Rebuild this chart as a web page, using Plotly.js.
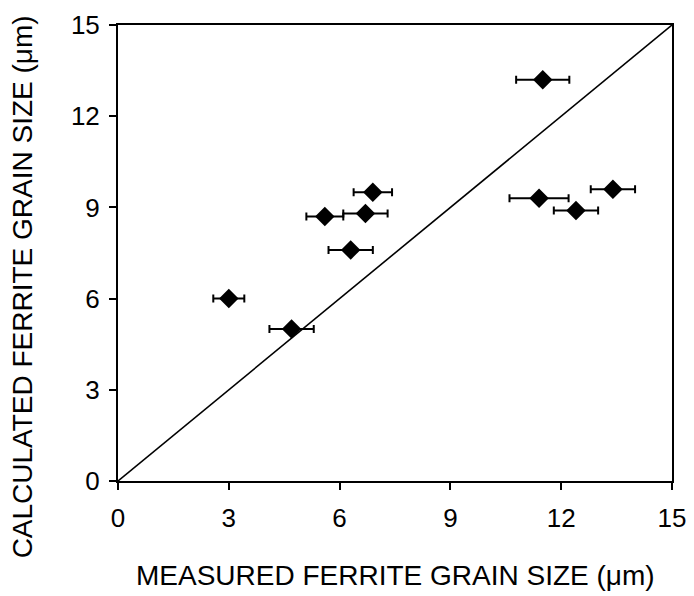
<!DOCTYPE html>
<html>
<head>
<meta charset="utf-8">
<script src="https://cdn.plot.ly/plotly-3.0.1.min.js"></script>
<style>html,body{margin:0;padding:0;background:#fff}#chart{width:694px;height:596px}</style>
</head>
<body>
<div id="chart"></div>
<script>
// Measured vs calculated ferrite grain size (µm)
var measured   = [3.0, 4.7, 5.6, 6.3, 6.7, 6.9, 11.5, 11.4, 12.4, 13.4];
var calculated = [6.0, 5.0, 8.7, 7.6, 8.8, 9.5, 13.2, 9.3, 8.9, 9.6];
var measuredErr = [0.42, 0.6, 0.5, 0.6, 0.6, 0.52, 0.72, 0.8, 0.6, 0.6];
var parityLine = [0, 15];
var tickVals = [0, 3, 6, 9, 12, 15];
var xTitle = 'MEASURED FERRITE GRAIN SIZE (\u03bcm)';
var yTitle = 'CALCULATED FERRITE GRAIN SIZE (\u03bcm)';

var FONT = 'Liberation Sans, Arial, sans-serif';

var traces = [
  {
    x: parityLine, y: parityLine, mode: 'lines', type: 'scatter',
    line: {color: '#000', width: 1.6}, hoverinfo: 'skip', showlegend: false
  },
  {
    x: measured, y: calculated, mode: 'markers', type: 'scatter',
    marker: {symbol: 'diamond', size: 15, color: '#000'},
    error_x: {type: 'data', array: measuredErr, symmetric: true, color: '#000', thickness: 2, width: 4},
    showlegend: false
  }
];

var axisCommon = {
  range: [0, 15], tickvals: tickVals, ticktext: tickVals.map(String),
  showgrid: false, zeroline: false, showline: true, mirror: true,
  linecolor: '#000', linewidth: 2, ticks: 'outside', ticklen: 7, tickwidth: 2, tickcolor: '#000',
  tickfont: {family: FONT, size: 26, color: '#000'}
};

var layout = {
  width: 694, height: 596,
  margin: {l: 118, r: 22, t: 25, b: 115},
  paper_bgcolor: '#fff', plot_bgcolor: '#fff',
  xaxis: Object.assign({}, axisCommon, {ticklabelstandoff: 6}),
  yaxis: Object.assign({}, axisCommon, {ticklabelstandoff: 4}),
  annotations: [
    {text: xTitle, xref: 'paper', yref: 'paper', x: 0.5, y: -0.208,
     xanchor: 'center', yanchor: 'middle', showarrow: false,
     font: {family: FONT, size: 28, color: '#000'}},
    {text: yTitle, xref: 'paper', yref: 'paper', x: -0.173, y: 0.425,
     xanchor: 'center', yanchor: 'middle', showarrow: false, textangle: -90,
     font: {family: FONT, size: 28, color: '#000'}}
  ]
};

Plotly.newPlot('chart', traces, layout, {displayModeBar: false, staticPlot: true});
</script>
</body>
</html>
